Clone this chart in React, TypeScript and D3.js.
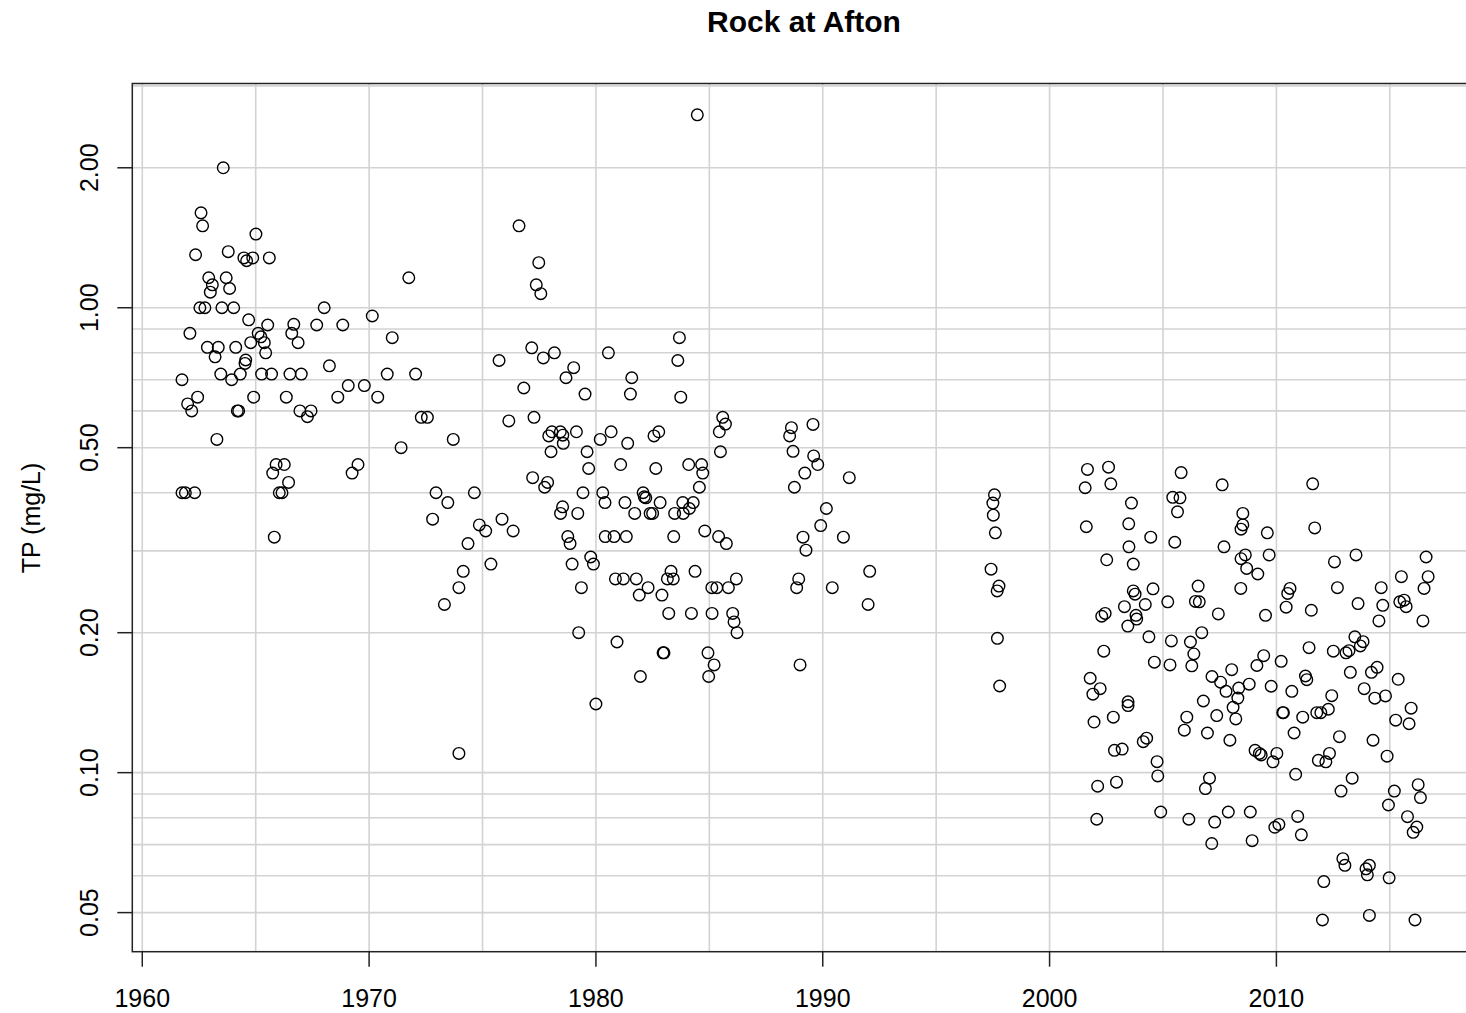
import React from 'react';
import * as d3 from 'd3';

// Chart text
const chartTitle = 'Rock at Afton';
const yAxisTitle = 'TP (mg/L)';

// Axis ticks and grid
const xTickYears = [1960, 1970, 1980, 1990, 2000, 2010];
const xGridYears = [1960, 1965, 1970, 1975, 1980, 1985, 1990, 1995, 2000, 2005, 2010, 2015];
const yTickValues = [0.05, 0.1, 0.2, 0.5, 1, 2];
const yTickLabels = ['0.05', '0.10', '0.20', '0.50', '1.00', '2.00'];
const yGridValues = [0.05, 0.06, 0.07, 0.08, 0.09, 0.1, 0.2, 0.3, 0.4, 0.5, 0.6, 0.7, 0.8, 0.9, 1, 2, 3];

// Total phosphorus samples (decimal year, mg/L), grouped by decade
const years1960s = [
  1961.75, 1962.0, 1962.18, 1962.44, 1961.75, 1961.9, 1962.31, 1962.1, 1962.35, 1962.54,
  1962.59, 1962.66, 1962.76, 1962.87, 1962.93, 1963.0, 1963.09, 1963.21, 1963.29, 1963.35,
  1963.46, 1963.51, 1963.57, 1963.7, 1963.79, 1963.85, 1963.94, 1964.03, 1964.12, 1964.19,
  1964.25, 1964.32, 1964.48, 1964.53, 1964.56, 1964.6, 1964.69, 1964.78, 1964.87, 1964.91,
  1965.01, 1965.11, 1965.23, 1965.26, 1965.38, 1965.44, 1965.53, 1965.6, 1965.7, 1965.75,
  1965.82, 1965.9, 1966.04, 1966.16, 1966.26, 1966.35, 1966.45, 1966.51, 1966.59, 1966.68,
  1966.87, 1966.95, 1967.01, 1967.28, 1967.44, 1967.69, 1968.02, 1968.25, 1968.62, 1968.84,
  1969.08, 1969.25, 1969.51, 1969.79,
];
const tp1960s = [
  0.7, 0.621, 0.6, 0.642, 0.4, 0.4, 0.4, 0.881, 1.3, 1.0,
  1.6, 1.5, 1.0, 0.822, 1.16, 1.08, 1.12, 0.784, 0.521, 0.822,
  0.72, 1.0, 2.0, 1.16, 1.32, 1.1, 0.7, 1.0, 0.822, 0.6,
  0.6, 0.72, 1.28, 0.759, 0.772, 1.262, 0.942, 0.841, 1.28, 0.642,
  1.44, 0.881, 0.866, 0.72, 0.841, 0.8, 0.918, 1.28, 0.72, 0.441,
  0.321, 0.46, 0.4, 0.4, 0.46, 0.642, 0.421, 0.72, 0.881, 0.921,
  0.841, 0.6, 0.72, 0.583, 0.6, 0.918, 1.0, 0.75, 0.642, 0.918,
  0.68, 0.441, 0.46, 0.68,
];

const years1970s = [
  1970.14, 1970.38, 1970.8, 1971.02, 1971.41, 1971.75, 1972.05, 1972.3, 1972.57, 1972.8,
  1972.95, 1973.32, 1973.47, 1973.71, 1973.96, 1973.96, 1974.15, 1974.36, 1974.64, 1974.86,
  1975.14, 1975.37, 1975.73, 1975.86, 1976.16, 1976.35, 1976.61, 1976.82, 1977.17, 1977.21,
  1977.27, 1977.37, 1977.48, 1977.57, 1977.68, 1977.74, 1977.87, 1977.92, 1978.02, 1978.06,
  1978.17, 1978.43, 1978.44, 1978.53, 1978.54, 1978.56, 1978.68, 1978.76, 1978.86, 1978.95,
  1979.02, 1979.14, 1979.2, 1979.24, 1979.36, 1979.43, 1979.52, 1979.61, 1979.68, 1979.77,
  1979.89,
];
const tp1970s = [
  0.96, 0.642, 0.72, 0.862, 0.5, 1.16, 0.72, 0.581, 0.581, 0.351,
  0.4, 0.23, 0.381, 0.521, 0.25, 0.11, 0.271, 0.311, 0.4, 0.341,
  0.331, 0.281, 0.77, 0.351, 0.571, 0.331, 1.5, 0.672, 0.82, 0.431,
  0.581, 1.12, 1.25, 1.072, 0.78, 0.411, 0.421, 0.53, 0.49, 0.541,
  0.8, 0.541, 0.361, 0.373, 0.532, 0.511, 0.707, 0.322, 0.311, 0.281,
  0.743, 0.541, 0.361, 0.2, 0.25, 0.4, 0.652, 0.49, 0.451, 0.291,
  0.281,
];

const years1980s = [
  1980.0, 1980.19, 1980.3, 1980.4, 1980.41, 1980.55, 1980.67, 1980.8, 1980.86, 1980.93,
  1981.09, 1981.21, 1981.28, 1981.34, 1981.4, 1981.52, 1981.58, 1981.71, 1981.78, 1981.91,
  1981.96, 1982.08, 1982.13, 1982.2, 1982.3, 1982.39, 1982.5, 1982.56, 1982.64, 1982.77,
  1982.83, 1982.91, 1982.96, 1983.0, 1983.15, 1983.21, 1983.31, 1983.41, 1983.43, 1983.47,
  1983.61, 1983.68, 1983.74, 1983.83, 1983.85, 1984.09, 1984.12, 1984.21, 1984.29, 1984.37,
  1984.47, 1984.56, 1984.66, 1984.71, 1984.8, 1984.94, 1984.97, 1985.11, 1985.12, 1985.21,
  1985.33, 1985.41, 1985.44, 1985.49, 1985.59, 1985.71, 1985.75, 1985.84, 1986.03, 1986.09,
  1986.19, 1986.22, 1988.54, 1988.62, 1988.69, 1988.75, 1988.85, 1988.94, 1989.0, 1989.13,
  1989.21, 1989.26, 1989.57, 1989.6, 1989.78, 1989.91,
];
const tp1980s = [
  0.1405, 0.521, 0.4, 0.381, 0.322, 0.8, 0.541, 0.322, 0.261, 0.191,
  0.46, 0.261, 0.381, 0.322, 0.511, 0.652, 0.707, 0.361, 0.261, 0.241,
  0.161, 0.4, 0.392, 0.39, 0.25, 0.361, 0.361, 0.53, 0.451, 0.541,
  0.381, 0.241, 0.181, 0.181, 0.261, 0.22, 0.271, 0.261, 0.322, 0.361,
  0.77, 0.862, 0.642, 0.381, 0.361, 0.46, 0.37, 0.22, 0.381, 0.271,
  2.6, 0.411, 0.46, 0.441, 0.331, 0.181, 0.161, 0.25, 0.22, 0.1705,
  0.25, 0.322, 0.541, 0.49, 0.581, 0.562, 0.311, 0.25, 0.22, 0.211,
  0.261, 0.2, 0.53, 0.552, 0.491, 0.411, 0.25, 0.261, 0.1705, 0.321,
  0.441, 0.301, 0.561, 0.48, 0.46, 0.34,
];

const years1990s = [
  1990.16, 1990.42, 1990.91, 1991.17, 1992.0, 1992.07, 1997.42, 1997.5, 1997.52, 1997.57,
  1997.61, 1997.69, 1997.7, 1997.77, 1997.8,
];
const tp1990s = [
  0.37, 0.25, 0.321, 0.431, 0.23, 0.271, 0.274, 0.38, 0.358, 0.396,
  0.328, 0.246, 0.1945, 0.252, 0.1536,
];

const years2000s = [
  2001.57, 2001.62, 2001.67, 2001.79, 2001.91, 2001.96, 2002.08, 2002.12, 2002.23, 2002.3,
  2002.39, 2002.45, 2002.52, 2002.6, 2002.7, 2002.81, 2002.86, 2002.95, 2003.2, 2003.3,
  2003.45, 2003.46, 2003.46, 2003.49, 2003.5, 2003.61, 2003.69, 2003.69, 2003.77, 2003.81,
  2003.84, 2004.13, 2004.22, 2004.28, 2004.38, 2004.46, 2004.56, 2004.62, 2004.74, 2004.77,
  2004.9, 2005.21, 2005.31, 2005.37, 2005.43, 2005.52, 2005.64, 2005.75, 2005.8, 2005.94,
  2006.05, 2006.14, 2006.21, 2006.27, 2006.36, 2006.43, 2006.55, 2006.6, 2006.71, 2006.78,
  2006.87, 2006.96, 2007.05, 2007.15, 2007.16, 2007.28, 2007.37, 2007.44, 2007.54, 2007.61,
  2007.69, 2007.78, 2007.88, 2007.95, 2008.03, 2008.09, 2008.21, 2008.3, 2008.34, 2008.43,
  2008.44, 2008.44, 2008.52, 2008.52, 2008.63, 2008.69, 2008.8, 2008.85, 2008.93, 2009.06,
  2009.14, 2009.18, 2009.25, 2009.33, 2009.44, 2009.52, 2009.6, 2009.68, 2009.77, 2009.85,
  2009.93,
];
const tp2000s = [
  0.41, 0.338, 0.449, 0.1596, 0.1475, 0.1285, 0.0794, 0.0935, 0.1516, 0.217,
  0.1825, 0.22, 0.287, 0.454, 0.418, 0.1316, 0.1117, 0.0954, 0.1124, 0.2275,
  0.2067, 0.142, 0.1394, 0.343, 0.306, 0.38, 0.281, 0.246, 0.242, 0.218,
  0.214, 0.1166, 0.23, 0.1186, 0.196, 0.321, 0.2485, 0.1728, 0.1056, 0.0984,
  0.0823, 0.233, 0.1705, 0.192, 0.391, 0.313, 0.364, 0.39, 0.442, 0.1234,
  0.1316, 0.0794, 0.191, 0.1697, 0.18, 0.2335, 0.252, 0.233, 0.2, 0.1426,
  0.0924, 0.1217, 0.0973, 0.0704, 0.161, 0.0783, 0.1327, 0.2195, 0.1565, 0.416,
  0.306, 0.1496, 0.0823, 0.1174, 0.1665, 0.1382, 0.1305, 0.1447, 0.152, 0.249,
  0.334, 0.2885, 0.361, 0.341, 0.294, 0.275, 0.155, 0.0823, 0.0714, 0.1117,
  0.17, 0.2675, 0.11, 0.1092, 0.1785, 0.218, 0.328, 0.294, 0.1534, 0.1055,
  0.0763,
];

const years2010s = [
  2010.02, 2010.11, 2010.21, 2010.28, 2010.31, 2010.43, 2010.5, 2010.6, 2010.68, 2010.78,
  2010.85, 2010.94, 2011.1, 2011.16, 2011.28, 2011.34, 2011.44, 2011.54, 2011.6, 2011.69,
  2011.78, 2011.85, 2011.96, 2012.03, 2012.09, 2012.18, 2012.29, 2012.34, 2012.44, 2012.51,
  2012.56, 2012.69, 2012.78, 2012.85, 2012.93, 2013.02, 2013.07, 2013.2, 2013.26, 2013.34,
  2013.46, 2013.51, 2013.6, 2013.7, 2013.82, 2013.87, 2013.95, 2014.01, 2014.1, 2014.1,
  2014.19, 2014.26, 2014.34, 2014.44, 2014.52, 2014.62, 2014.69, 2014.81, 2014.88, 2014.94,
  2014.97, 2015.2, 2015.26, 2015.37, 2015.44, 2015.51, 2015.63, 2015.72, 2015.78, 2015.85,
  2015.94, 2016.03, 2016.11, 2016.19, 2016.25, 2016.35, 2016.46, 2016.51, 2016.6, 2016.69,
];
const tp2010s = [
  0.11, 0.0774, 0.1736, 0.1346, 0.1346, 0.227, 0.243, 0.249, 0.1496, 0.1217,
  0.0992, 0.0805, 0.0735, 0.1316, 0.1614, 0.1585, 0.1857, 0.2235, 0.418, 0.336,
  0.1346, 0.1063, 0.1346, 0.0482, 0.0583, 0.1055, 0.1369, 0.11, 0.1464, 0.1825,
  0.284, 0.25, 0.1195, 0.0913, 0.0653, 0.0632, 0.181, 0.183, 0.1644, 0.0973,
  0.196, 0.294, 0.231, 0.1873, 0.1913, 0.1516, 0.0621, 0.0603, 0.0632, 0.0493,
  0.1644, 0.1174, 0.1446, 0.1685, 0.212, 0.25, 0.229, 0.1462, 0.1085, 0.0852,
  0.0594, 0.0913, 0.1297, 0.1588, 0.233, 0.264, 0.235, 0.2275, 0.0804, 0.1274,
  0.1376, 0.0744, 0.0482, 0.0764, 0.0942, 0.0884, 0.212, 0.249, 0.291, 0.264,
];

const yearGroups = [years1960s, years1970s, years1980s, years1990s, years2000s, years2010s];
const tpGroups = [tp1960s, tp1970s, tp1980s, tp1990s, tp2000s, tp2010s];

const W = 1466;
const H = 1013;
const plot = { left: 132.3, right: 1476, top: 83.5, bottom: 951.7 };
const FONT = '"Liberation Sans", Arial, Helvetica, sans-serif';

export default function App() {
  const x = d3.scaleLinear().domain([1959.56, 2018.8]).range([plot.left, plot.right]);
  const y = d3.scaleLog().domain([0.0412, 3.036]).range([plot.bottom, plot.top]);

  const samples = yearGroups.flatMap((ys, g) => ys.map((yr, i) => ({ yr, v: tpGroups[g][i] })));

  const grid = '#d3d3d3';
  const axisColor = '#222';

  return (
    <svg
      width={W}
      height={H}
      viewBox={`0 0 ${W} ${H}`}
      style={{ position: 'absolute', left: 0, top: 0, background: '#fff' }}
      fontFamily={FONT}
    >
      <rect x={0} y={0} width={W} height={H} fill="#fff" />
      <defs>
        <clipPath id="plotClip">
          <rect x={plot.left} y={plot.top} width={plot.right - plot.left} height={plot.bottom - plot.top} />
        </clipPath>
      </defs>

      {/* grid */}
      <g clipPath="url(#plotClip)">
        {xGridYears.map((d) => (
          <line key={`gx${d}`} x1={x(d)} x2={x(d)} y1={plot.top} y2={plot.bottom} stroke={grid} strokeWidth={1.6} />
        ))}
        {yGridValues.map((d) => (
          <line key={`gy${d}`} x1={plot.left} x2={plot.right} y1={y(d)} y2={y(d)} stroke={grid} strokeWidth={1.6} />
        ))}
      </g>

      {/* points */}
      <g clipPath="url(#plotClip)">
        {samples.map((s, i) => (
          <circle key={i} cx={x(s.yr)} cy={y(s.v)} r={5.8} fill="none" stroke="#000" strokeWidth={1.4} />
        ))}
      </g>

      {/* box */}
      <rect
        x={plot.left}
        y={plot.top}
        width={plot.right - plot.left}
        height={plot.bottom - plot.top}
        fill="none"
        stroke={axisColor}
        strokeWidth={1.5}
      />

      {/* x axis */}
      {xTickYears.map((d) => (
        <g key={`xt${d}`}>
          <line x1={x(d)} x2={x(d)} y1={plot.bottom} y2={plot.bottom + 15} stroke={axisColor} strokeWidth={1.5} />
          <text x={x(d)} y={1007} textAnchor="middle" fontSize={25} fill="#000">
            {d}
          </text>
        </g>
      ))}

      {/* y axis */}
      {yTickValues.map((d, i) => (
        <g key={`yt${d}`}>
          <line x1={plot.left - 15} x2={plot.left} y1={y(d)} y2={y(d)} stroke={axisColor} strokeWidth={1.5} />
          <text
            transform={`translate(98,${y(d)}) rotate(-90)`}
            textAnchor="middle"
            fontSize={25}
            fill="#000"
          >
            {yTickLabels[i]}
          </text>
        </g>
      ))}

      <text transform="translate(40,518) rotate(-90)" textAnchor="middle" fontSize={25} fill="#000">
        {yAxisTitle}
      </text>

      <text x={804} y={32} textAnchor="middle" fontSize={30} fontWeight="bold" fill="#000">
        {chartTitle}
      </text>
    </svg>
  );
}
